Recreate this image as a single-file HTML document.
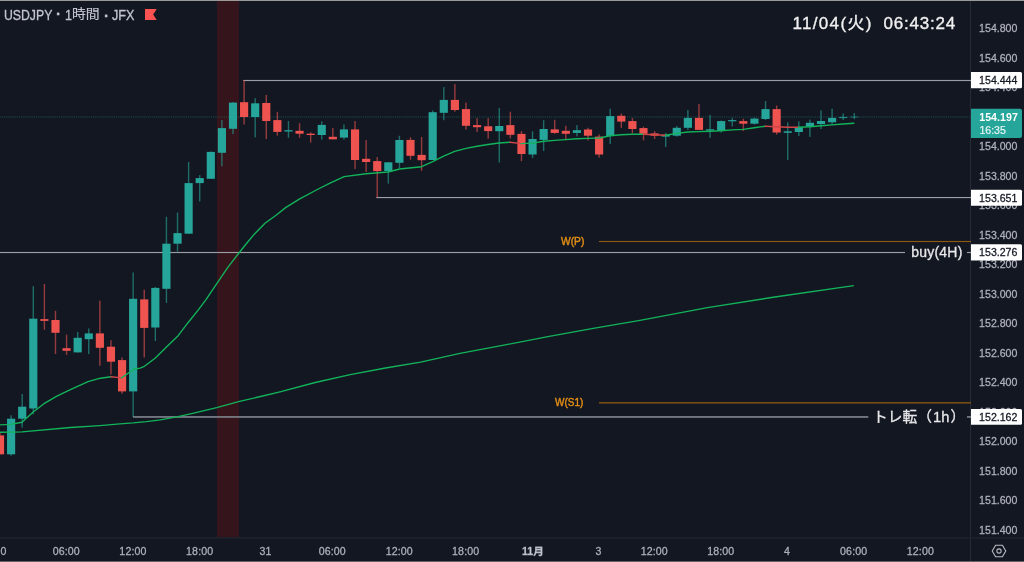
<!DOCTYPE html>
<html lang="ja">
<head>
<meta charset="utf-8">
<title>USDJPY 1時間 JFX</title>
<style>
html,body{margin:0;padding:0;background:#131722;}
body{width:1024px;height:562px;overflow:hidden;position:relative;font-family:"Liberation Sans","Noto Sans CJK JP",sans-serif;}
#wrap{position:absolute;left:0;top:0;width:1024px;height:562px;background:#131722;overflow:hidden;}
.chart{position:absolute;left:0;top:0;}
.topbar{position:absolute;left:0;top:0;width:1024px;height:1.2px;background:#9a9a98;}
.botbar{position:absolute;left:0;top:560.9px;width:1024px;height:1.1px;background:#626264;}
.vaxis{position:absolute;left:970px;top:1px;width:1px;height:560px;background:#2c303b;}
.haxis{position:absolute;left:0;top:536.6px;width:1024px;height:1px;background:#272b36;}
.pl{-webkit-text-stroke:0.26px #aeb1bc;position:absolute;left:971px;width:51px;height:14px;line-height:14px;text-align:right;padding-right:0;font-size:10.6px;color:#aeb1bc;box-sizing:border-box;padding-right:4.6px;white-space:nowrap;}
.tl{-webkit-text-stroke:0.26px #aeb1bc;position:absolute;top:543.5px;width:60px;height:14px;line-height:14px;text-align:center;font-size:10.6px;color:#aeb1bc;white-space:nowrap;letter-spacing:0.15px;}
.tl.b{font-weight:bold;color:#c4c7d0;}
.box{-webkit-text-stroke:0.26px #131722;position:absolute;left:971px;width:51px;height:16.2px;color:#131722;font-size:10.6px;line-height:16.2px;text-align:right;box-sizing:border-box;padding-right:4.6px;white-space:nowrap;}
.cur{position:absolute;left:971px;top:108.9px;width:51px;height:29.2px;color:#fff;font-size:10.6px;box-sizing:border-box;padding-left:8.4px;white-space:nowrap;}
.cur b{display:block;position:absolute;top:1.6px;left:8.2px;line-height:14px;font-weight:bold;letter-spacing:0.05px;}
.cur span{display:block;position:absolute;top:14.4px;left:8.4px;line-height:14px;color:rgba(255,255,255,0.85);-webkit-text-stroke:0.2px rgba(255,255,255,0.85);}
.title{position:absolute;left:4px;top:5px;height:20px;line-height:20px;font-size:14px;color:#c2c5cf;white-space:nowrap;-webkit-text-stroke:0.3px #c2c5cf;}
.title span{position:absolute;top:0;transform-origin:0 50%;white-space:nowrap;}
.clock{position:absolute;top:12px;height:24px;line-height:24px;font-size:17px;color:#f0f0f0;white-space:nowrap;letter-spacing:0.8px;-webkit-text-stroke:0.35px #f0f0f0;}
.ann{position:absolute;height:20px;line-height:20px;font-size:14px;color:#e8e8ea;white-space:nowrap;-webkit-text-stroke:0.3px #e8e8ea;}
.piv{position:absolute;height:12px;line-height:12px;font-size:10.5px;font-weight:normal;color:#e08c14;-webkit-text-stroke:0.45px #e08c14;white-space:nowrap;transform-origin:0 50%;transform:scaleX(0.975);}
</style>
</head>
<body>
<div id="wrap">
<svg class="chart" width="1024" height="562" viewBox="0 0 1024 562">
<rect x="970" y="1" width="1" height="560" fill="#272b37"/>
<rect x="0" y="537.05" width="1024" height="1.6" fill="#1e222e"/>
<rect x="217" y="1" width="22" height="536" fill="#35141c"/>
<line x1="0" y1="117" x2="971" y2="117" stroke="#26a69a" stroke-opacity="0.42" stroke-width="1.2" stroke-dasharray="0.95 0.95"/>
<rect x="243.3" y="79.92" width="727.7" height="1.15" fill="#9c9ea6"/>
<rect x="376.3" y="196.98" width="594.7" height="1.15" fill="#9c9ea6"/>
<rect x="0" y="251.93" width="905" height="1.15" fill="#9c9ea6"/>
<rect x="967" y="251.93" width="4" height="1.15" fill="#9c9ea6"/>
<rect x="133" y="416.10" width="735.3" height="1.7" fill="#7d808a"/>
<rect x="967" y="416.10" width="4" height="1.7" fill="#7d808a"/>
<rect x="599" y="240.93" width="372" height="1.15" fill="#8c5812"/>
<rect x="599" y="402.05" width="372" height="1.5" fill="#7d5014"/>
<rect x="-0.69" y="432.8" width="1.4" height="21.5" fill="#ef5350" fill-opacity="0.6"/>
<rect x="-4.07" y="435.4" width="8.15" height="18.9" fill="#ef5350"/>
<rect x="10.40" y="415.2" width="1.4" height="40.5" fill="#26a69a" fill-opacity="0.6"/>
<rect x="7.03" y="418.7" width="8.15" height="35.6" fill="#26a69a"/>
<rect x="21.50" y="394.0" width="1.4" height="33.5" fill="#26a69a" fill-opacity="0.6"/>
<rect x="18.12" y="406.7" width="8.15" height="12.0" fill="#26a69a"/>
<rect x="32.59" y="286.2" width="1.4" height="128.1" fill="#26a69a" fill-opacity="0.6"/>
<rect x="29.22" y="318.7" width="8.15" height="89.8" fill="#26a69a"/>
<rect x="43.69" y="283.9" width="1.4" height="45.9" fill="#ef5350" fill-opacity="0.6"/>
<rect x="40.31" y="319.1" width="8.15" height="1.8" fill="#ef5350"/>
<rect x="54.78" y="310.8" width="1.4" height="43.2" fill="#ef5350" fill-opacity="0.6"/>
<rect x="51.41" y="320.0" width="8.15" height="12.8" fill="#ef5350"/>
<rect x="65.88" y="334.6" width="1.4" height="20.3" fill="#ef5350" fill-opacity="0.6"/>
<rect x="62.50" y="348.2" width="8.15" height="2.6" fill="#ef5350"/>
<rect x="76.97" y="332.0" width="1.4" height="20.4" fill="#26a69a" fill-opacity="0.6"/>
<rect x="73.60" y="337.8" width="8.15" height="14.6" fill="#26a69a"/>
<rect x="88.07" y="328.4" width="1.4" height="25.6" fill="#26a69a" fill-opacity="0.6"/>
<rect x="84.69" y="333.4" width="8.15" height="5.8" fill="#26a69a"/>
<rect x="99.16" y="300.6" width="1.4" height="65.2" fill="#ef5350" fill-opacity="0.6"/>
<rect x="95.79" y="333.4" width="8.15" height="14.4" fill="#ef5350"/>
<rect x="110.26" y="340.2" width="1.4" height="34.4" fill="#ef5350" fill-opacity="0.6"/>
<rect x="106.88" y="346.7" width="8.15" height="15.0" fill="#ef5350"/>
<rect x="121.35" y="357.5" width="1.4" height="36.2" fill="#ef5350" fill-opacity="0.6"/>
<rect x="117.98" y="360.1" width="8.15" height="31.3" fill="#ef5350"/>
<rect x="132.44" y="272.5" width="1.4" height="144.5" fill="#26a69a" fill-opacity="0.6"/>
<rect x="129.07" y="298.8" width="8.15" height="92.6" fill="#26a69a"/>
<rect x="143.54" y="289.7" width="1.4" height="67.8" fill="#ef5350" fill-opacity="0.6"/>
<rect x="140.16" y="299.4" width="8.15" height="28.5" fill="#ef5350"/>
<rect x="154.63" y="287.0" width="1.4" height="54.1" fill="#26a69a" fill-opacity="0.6"/>
<rect x="151.26" y="287.9" width="8.15" height="39.6" fill="#26a69a"/>
<rect x="165.73" y="216.8" width="1.4" height="86.1" fill="#26a69a" fill-opacity="0.6"/>
<rect x="162.35" y="243.7" width="8.15" height="45.1" fill="#26a69a"/>
<rect x="176.82" y="212.5" width="1.4" height="39.1" fill="#26a69a" fill-opacity="0.6"/>
<rect x="173.45" y="233.1" width="8.15" height="10.6" fill="#26a69a"/>
<rect x="187.92" y="161.9" width="1.4" height="71.8" fill="#26a69a" fill-opacity="0.6"/>
<rect x="184.54" y="183.1" width="8.15" height="50.6" fill="#26a69a"/>
<rect x="199.01" y="175.1" width="1.4" height="26.3" fill="#26a69a" fill-opacity="0.6"/>
<rect x="195.64" y="178.1" width="8.15" height="5.0" fill="#26a69a"/>
<rect x="210.11" y="151.5" width="1.4" height="27.3" fill="#26a69a" fill-opacity="0.6"/>
<rect x="206.73" y="151.9" width="8.15" height="26.9" fill="#26a69a"/>
<rect x="221.20" y="120.0" width="1.4" height="46.3" fill="#26a69a" fill-opacity="0.6"/>
<rect x="217.83" y="128.1" width="8.15" height="24.7" fill="#26a69a"/>
<rect x="232.30" y="102.0" width="1.4" height="32.1" fill="#26a69a" fill-opacity="0.6"/>
<rect x="228.92" y="102.6" width="8.15" height="26.2" fill="#26a69a"/>
<rect x="243.39" y="80.3" width="1.4" height="44.2" fill="#ef5350" fill-opacity="0.6"/>
<rect x="240.02" y="102.2" width="8.15" height="14.8" fill="#ef5350"/>
<rect x="254.49" y="98.2" width="1.4" height="39.1" fill="#26a69a" fill-opacity="0.6"/>
<rect x="251.11" y="103.3" width="8.15" height="13.7" fill="#26a69a"/>
<rect x="265.58" y="94.9" width="1.4" height="44.1" fill="#ef5350" fill-opacity="0.6"/>
<rect x="262.20" y="103.0" width="8.15" height="18.0" fill="#ef5350"/>
<rect x="276.67" y="111.8" width="1.4" height="23.8" fill="#ef5350" fill-opacity="0.6"/>
<rect x="273.30" y="120.1" width="8.15" height="11.8" fill="#ef5350"/>
<rect x="287.77" y="121.1" width="1.4" height="16.7" fill="#26a69a" fill-opacity="0.6"/>
<rect x="284.39" y="130.2" width="8.15" height="1.3" fill="#26a69a"/>
<rect x="298.86" y="123.2" width="1.4" height="14.6" fill="#ef5350" fill-opacity="0.6"/>
<rect x="295.49" y="130.8" width="8.15" height="2.9" fill="#ef5350"/>
<rect x="309.96" y="132.3" width="1.4" height="10.3" fill="#ef5350" fill-opacity="0.6"/>
<rect x="306.58" y="133.7" width="8.15" height="1.3" fill="#ef5350"/>
<rect x="321.05" y="121.4" width="1.4" height="18.2" fill="#26a69a" fill-opacity="0.6"/>
<rect x="317.68" y="124.9" width="8.15" height="10.1" fill="#26a69a"/>
<rect x="332.15" y="128.0" width="1.4" height="11.3" fill="#ef5350" fill-opacity="0.6"/>
<rect x="328.77" y="136.8" width="8.15" height="2.5" fill="#ef5350"/>
<rect x="343.24" y="124.4" width="1.4" height="15.2" fill="#26a69a" fill-opacity="0.6"/>
<rect x="339.87" y="129.4" width="8.15" height="8.2" fill="#26a69a"/>
<rect x="354.34" y="121.0" width="1.4" height="48.0" fill="#ef5350" fill-opacity="0.6"/>
<rect x="350.96" y="129.4" width="8.15" height="30.6" fill="#ef5350"/>
<rect x="365.43" y="140.0" width="1.4" height="32.0" fill="#ef5350" fill-opacity="0.6"/>
<rect x="362.06" y="158.8" width="8.15" height="3.2" fill="#ef5350"/>
<rect x="376.53" y="157.0" width="1.4" height="40.5" fill="#ef5350" fill-opacity="0.6"/>
<rect x="373.15" y="161.1" width="8.15" height="10.0" fill="#ef5350"/>
<rect x="387.62" y="162.3" width="1.4" height="21.3" fill="#26a69a" fill-opacity="0.6"/>
<rect x="384.25" y="162.3" width="8.15" height="8.8" fill="#26a69a"/>
<rect x="398.72" y="135.8" width="1.4" height="32.3" fill="#26a69a" fill-opacity="0.6"/>
<rect x="395.34" y="140.0" width="8.15" height="22.8" fill="#26a69a"/>
<rect x="409.81" y="137.3" width="1.4" height="22.4" fill="#ef5350" fill-opacity="0.6"/>
<rect x="406.43" y="139.9" width="8.15" height="15.9" fill="#ef5350"/>
<rect x="420.90" y="136.9" width="1.4" height="33.9" fill="#ef5350" fill-opacity="0.6"/>
<rect x="417.53" y="154.9" width="8.15" height="5.3" fill="#ef5350"/>
<rect x="432.00" y="110.5" width="1.4" height="49.5" fill="#26a69a" fill-opacity="0.6"/>
<rect x="428.62" y="112.2" width="8.15" height="47.8" fill="#26a69a"/>
<rect x="443.09" y="87.1" width="1.4" height="33.1" fill="#26a69a" fill-opacity="0.6"/>
<rect x="439.72" y="99.9" width="8.15" height="12.9" fill="#26a69a"/>
<rect x="454.19" y="84.1" width="1.4" height="27.6" fill="#ef5350" fill-opacity="0.6"/>
<rect x="450.81" y="99.9" width="8.15" height="10.1" fill="#ef5350"/>
<rect x="465.28" y="102.6" width="1.4" height="27.0" fill="#ef5350" fill-opacity="0.6"/>
<rect x="461.91" y="109.1" width="8.15" height="16.7" fill="#ef5350"/>
<rect x="476.38" y="118.2" width="1.4" height="13.8" fill="#ef5350" fill-opacity="0.6"/>
<rect x="473.00" y="125.1" width="8.15" height="2.1" fill="#ef5350"/>
<rect x="487.47" y="118.2" width="1.4" height="20.5" fill="#ef5350" fill-opacity="0.6"/>
<rect x="484.10" y="126.3" width="8.15" height="4.8" fill="#ef5350"/>
<rect x="498.57" y="107.9" width="1.4" height="54.6" fill="#26a69a" fill-opacity="0.6"/>
<rect x="495.19" y="126.0" width="8.15" height="5.2" fill="#26a69a"/>
<rect x="509.66" y="111.7" width="1.4" height="26.8" fill="#ef5350" fill-opacity="0.6"/>
<rect x="506.29" y="125.1" width="8.15" height="9.7" fill="#ef5350"/>
<rect x="520.76" y="131.1" width="1.4" height="30.1" fill="#ef5350" fill-opacity="0.6"/>
<rect x="517.38" y="133.9" width="8.15" height="20.1" fill="#ef5350"/>
<rect x="531.85" y="131.3" width="1.4" height="26.7" fill="#26a69a" fill-opacity="0.6"/>
<rect x="528.48" y="139.0" width="8.15" height="15.5" fill="#26a69a"/>
<rect x="542.94" y="120.2" width="1.4" height="30.8" fill="#26a69a" fill-opacity="0.6"/>
<rect x="539.57" y="129.0" width="8.15" height="10.9" fill="#26a69a"/>
<rect x="554.04" y="119.8" width="1.4" height="14.0" fill="#ef5350" fill-opacity="0.6"/>
<rect x="550.66" y="129.4" width="8.15" height="3.5" fill="#ef5350"/>
<rect x="565.13" y="125.8" width="1.4" height="13.8" fill="#ef5350" fill-opacity="0.6"/>
<rect x="561.76" y="130.8" width="8.15" height="3.0" fill="#ef5350"/>
<rect x="576.23" y="125.1" width="1.4" height="11.3" fill="#26a69a" fill-opacity="0.6"/>
<rect x="572.85" y="130.2" width="8.15" height="2.7" fill="#26a69a"/>
<rect x="587.32" y="127.8" width="1.4" height="12.6" fill="#ef5350" fill-opacity="0.6"/>
<rect x="583.95" y="129.5" width="8.15" height="6.2" fill="#ef5350"/>
<rect x="598.42" y="134.4" width="1.4" height="23.1" fill="#ef5350" fill-opacity="0.6"/>
<rect x="595.04" y="136.6" width="8.15" height="17.9" fill="#ef5350"/>
<rect x="609.51" y="108.7" width="1.4" height="35.3" fill="#26a69a" fill-opacity="0.6"/>
<rect x="606.14" y="116.1" width="8.15" height="19.9" fill="#26a69a"/>
<rect x="620.61" y="113.5" width="1.4" height="14.3" fill="#ef5350" fill-opacity="0.6"/>
<rect x="617.23" y="115.8" width="8.15" height="5.8" fill="#ef5350"/>
<rect x="631.70" y="117.9" width="1.4" height="15.5" fill="#ef5350" fill-opacity="0.6"/>
<rect x="628.33" y="121.1" width="8.15" height="7.9" fill="#ef5350"/>
<rect x="642.80" y="126.7" width="1.4" height="13.7" fill="#ef5350" fill-opacity="0.6"/>
<rect x="639.42" y="128.1" width="8.15" height="5.7" fill="#ef5350"/>
<rect x="653.89" y="131.1" width="1.4" height="7.9" fill="#ef5350" fill-opacity="0.6"/>
<rect x="650.52" y="133.4" width="8.15" height="2.3" fill="#ef5350"/>
<rect x="664.99" y="132.9" width="1.4" height="14.1" fill="#26a69a" fill-opacity="0.6"/>
<rect x="661.61" y="134.8" width="8.15" height="1.8" fill="#26a69a"/>
<rect x="676.08" y="126.0" width="1.4" height="10.6" fill="#26a69a" fill-opacity="0.6"/>
<rect x="672.71" y="127.8" width="8.15" height="7.9" fill="#26a69a"/>
<rect x="687.17" y="110.0" width="1.4" height="19.9" fill="#26a69a" fill-opacity="0.6"/>
<rect x="683.80" y="117.9" width="8.15" height="9.9" fill="#26a69a"/>
<rect x="698.27" y="104.0" width="1.4" height="25.9" fill="#ef5350" fill-opacity="0.6"/>
<rect x="694.89" y="117.9" width="8.15" height="12.0" fill="#ef5350"/>
<rect x="709.36" y="114.9" width="1.4" height="22.9" fill="#26a69a" fill-opacity="0.6"/>
<rect x="705.99" y="129.3" width="8.15" height="1.2" fill="#26a69a"/>
<rect x="720.46" y="120.5" width="1.4" height="12.0" fill="#26a69a" fill-opacity="0.6"/>
<rect x="717.08" y="121.1" width="8.15" height="9.7" fill="#26a69a"/>
<rect x="731.55" y="117.9" width="1.4" height="8.5" fill="#26a69a" fill-opacity="0.6"/>
<rect x="728.18" y="120.1" width="8.15" height="1.2" fill="#26a69a"/>
<rect x="742.65" y="118.8" width="1.4" height="12.3" fill="#ef5350" fill-opacity="0.6"/>
<rect x="739.27" y="121.1" width="8.15" height="2.6" fill="#ef5350"/>
<rect x="753.74" y="117.6" width="1.4" height="7.0" fill="#26a69a" fill-opacity="0.6"/>
<rect x="750.37" y="118.6" width="8.15" height="5.1" fill="#26a69a"/>
<rect x="764.84" y="101.1" width="1.4" height="18.9" fill="#26a69a" fill-opacity="0.6"/>
<rect x="761.46" y="109.1" width="8.15" height="9.9" fill="#26a69a"/>
<rect x="775.93" y="105.5" width="1.4" height="29.1" fill="#ef5350" fill-opacity="0.6"/>
<rect x="772.56" y="109.1" width="8.15" height="23.4" fill="#ef5350"/>
<rect x="787.03" y="122.3" width="1.4" height="37.8" fill="#26a69a" fill-opacity="0.6"/>
<rect x="783.65" y="131.3" width="8.15" height="1.5" fill="#26a69a"/>
<rect x="798.12" y="121.4" width="1.4" height="14.6" fill="#26a69a" fill-opacity="0.6"/>
<rect x="794.75" y="127.2" width="8.15" height="4.8" fill="#26a69a"/>
<rect x="809.22" y="119.6" width="1.4" height="17.3" fill="#26a69a" fill-opacity="0.6"/>
<rect x="805.84" y="122.8" width="8.15" height="3.9" fill="#26a69a"/>
<rect x="820.31" y="110.3" width="1.4" height="18.7" fill="#26a69a" fill-opacity="0.6"/>
<rect x="816.93" y="121.0" width="8.15" height="3.0" fill="#26a69a"/>
<rect x="831.40" y="108.7" width="1.4" height="16.2" fill="#26a69a" fill-opacity="0.6"/>
<rect x="828.03" y="117.9" width="8.15" height="4.4" fill="#26a69a"/>
<rect x="842.50" y="113.5" width="1.4" height="6.5" fill="#26a69a" fill-opacity="0.6"/>
<rect x="839.12" y="116.9" width="8.15" height="1.2" fill="#26a69a" fill-opacity="0.8"/>
<rect x="853.59" y="113.1" width="1.4" height="6.0" fill="#26a69a" fill-opacity="0.6"/>
<rect x="850.22" y="116.4" width="8.15" height="1.2" fill="#26a69a" fill-opacity="0.5"/>
<polyline points="0.0,432.3 22.0,431.9 70.4,427.5 100.0,425.6 120.0,423.9 133.2,422.9 146.4,421.6 160.4,419.9 178.0,416.7 193.8,413.2 216.7,407.6 239.5,401.4 260.6,396.5 280.0,391.8 315.2,382.5 350.3,374.6 385.5,368.0 420.6,362.2 460.0,353.3 503.9,345.1 547.9,336.7 591.8,328.7 640.0,320.4 707.4,307.7 774.8,297.0 853.8,285.7" fill="none" stroke="#12b35a" stroke-width="1.35" stroke-linejoin="round"/>
<polyline points="0.0,424.9 10.6,424.4 22.0,422.3 33.5,411.7 44.0,403.7 56.4,396.3 70.4,389.7 88.0,381.7 100.4,378.2 111.0,376.8" fill="none" stroke="#12b35a" stroke-width="1.38" stroke-linejoin="round" stroke-linecap="round"/>
<polyline points="111.0,376.8 121.5,377.9" fill="none" stroke="#cf4646" stroke-width="1.38" stroke-linejoin="round" stroke-linecap="round"/>
<polyline points="121.5,377.9 133.8,369.3 140.0,368.1 144.4,366.3 155.1,358.3 166.7,346.7 177.4,336.6 188.0,322.7 198.7,309.4 206.0,299.7 216.6,283.8 228.0,267.2 239.3,252.5 246.9,243.0 254.5,233.9 265.0,223.3 276.4,215.0 285.6,207.6 299.7,198.8 316.4,190.0 330.0,183.1 344.1,176.6 366.1,173.8 388.1,172.0 399.6,169.0 421.6,166.7 432.7,161.6 443.6,156.1 454.7,151.4 466.1,148.4 477.0,146.3 488.0,144.5 499.0,143.0 510.0,142.2" fill="none" stroke="#12b35a" stroke-width="1.38" stroke-linejoin="round" stroke-linecap="round"/>
<polyline points="510.0,142.2 521.0,143.6" fill="none" stroke="#cf4646" stroke-width="1.38" stroke-linejoin="round" stroke-linecap="round"/>
<polyline points="521.0,143.6 532.7,143.1 543.8,141.3 554.7,140.4 565.7,139.6 576.6,138.8 587.7,138.4 599.3,138.0 610.3,135.7 621.2,134.8 632.3,134.3 643.4,134.3" fill="none" stroke="#12b35a" stroke-width="1.38" stroke-linejoin="round" stroke-linecap="round"/>
<polyline points="643.4,134.3 654.3,134.8 665.7,135.2" fill="none" stroke="#cf4646" stroke-width="1.38" stroke-linejoin="round" stroke-linecap="round"/>
<polyline points="665.7,135.2 676.8,133.4 687.9,132.0 698.8,131.6 709.8,131.3 720.9,130.8 731.8,129.9 743.2,129.4 754.3,127.8 765.3,126.2" fill="none" stroke="#12b35a" stroke-width="1.38" stroke-linejoin="round" stroke-linecap="round"/>
<polyline points="765.3,126.2 776.4,126.7 787.3,127.2 798.4,127.2" fill="none" stroke="#cf4646" stroke-width="1.38" stroke-linejoin="round" stroke-linecap="round"/>
<polyline points="798.4,127.2 809.9,126.7 820.8,125.8 831.9,124.9 842.8,124.0 853.9,123.3" fill="none" stroke="#12b35a" stroke-width="1.38" stroke-linejoin="round" stroke-linecap="round"/>
<path d="M145.6 9 H156.7 L153.2 14.55 L156.7 20.1 H145.6 Q145 20.1 145 19.5 V9.6 Q145 9 145.6 9 Z" fill="#fc5252"/>
<path d="M992.2 551 L995.6 545.2 H1002.4 L1005.8 551 L1002.4 556.8 H995.6 Z" fill="none" stroke="#b9bbc3" stroke-width="1.1" stroke-linejoin="round"/>
<circle cx="999" cy="551" r="2.15" fill="none" stroke="#b9bbc3" stroke-width="1.05"/>
</svg>
<div class="pl" style="top:21.1px">154.800</div>
<div class="pl" style="top:50.6px">154.600</div>
<div class="pl" style="top:80.1px">154.400</div>
<div class="pl" style="top:109.6px">154.200</div>
<div class="pl" style="top:139.1px">154.000</div>
<div class="pl" style="top:168.6px">153.800</div>
<div class="pl" style="top:198.1px">153.600</div>
<div class="pl" style="top:227.6px">153.400</div>
<div class="pl" style="top:257.1px">153.200</div>
<div class="pl" style="top:286.6px">153.000</div>
<div class="pl" style="top:316.1px">152.800</div>
<div class="pl" style="top:345.6px">152.600</div>
<div class="pl" style="top:375.1px">152.400</div>
<div class="pl" style="top:404.6px">152.200</div>
<div class="pl" style="top:434.1px">152.000</div>
<div class="pl" style="top:463.6px">151.800</div>
<div class="pl" style="top:493.1px">151.600</div>
<div class="pl" style="top:522.6px">151.400</div>
<svg class="chart" width="1024" height="562" viewBox="0 0 1024 562">
<path d="M971 72.05 H1020.5 Q1022 72.05 1022 73.55 V86.75 Q1022 88.25 1020.5 88.25 H971 Z" fill="#fff"/>
<path d="M971 108.85 H1020 Q1022 108.85 1022 110.85 V136 Q1022 138 1020 138 H971 Z" fill="#26a69a"/>
<path d="M971 189.75 H1020.5 Q1022 189.75 1022 191.25 V204.35 Q1022 205.85 1020.5 205.85 H971 Z" fill="#fff"/>
<path d="M971 244.35 H1020.5 Q1022 244.35 1022 245.85 V259 Q1022 260.5 1020.5 260.5 H971 Z" fill="#fff"/>
<path d="M971 408.9 H1020.5 Q1022 408.9 1022 410.4 V423.3 Q1022 424.8 1020.5 424.8 H971 Z" fill="#fff"/>
</svg>
<div class="box" style="top:72.1px">154.444</div>
<div class="cur"><b>154.197</b><span>16:35</span></div>
<div class="box" style="top:189.7px">153.651</div>
<div class="box" style="top:244.3px">153.276</div>
<div class="box" style="top:408.8px">152.162</div>
<div class="tl" style="left:-29.5px">30</div>
<div class="tl" style="left:36.3px">06:00</div>
<div class="tl" style="left:103.0px">12:00</div>
<div class="tl" style="left:169.7px">18:00</div>
<div class="tl" style="left:235.5px">31</div>
<div class="tl" style="left:302.3px">06:00</div>
<div class="tl" style="left:369.3px">12:00</div>
<div class="tl" style="left:435.7px">18:00</div>
<div class="tl b" style="left:503.0px">11月</div>
<div class="tl" style="left:568.5px">3</div>
<div class="tl" style="left:624.3px">12:00</div>
<div class="tl" style="left:690.8px">18:00</div>
<div class="tl" style="left:757.0px">4</div>
<div class="tl" style="left:823.7px">06:00</div>
<div class="tl" style="left:890.4px">12:00</div>
<div class="title"><span style="left:0;transform:scaleX(0.875)">USDJPY</span><span style="left:52px;top:-0.8px;font-weight:bold;font-size:15px">·</span><span style="left:60.8px;transform:scaleX(0.9)">1</span><span style="left:67.8px;top:-0.7px;font-size:13px;transform:scaleX(1.065);-webkit-text-stroke:0.15px #c2c5cf">時間</span><span style="left:99.9px;top:0.7px;font-weight:bold;font-size:15px">·</span><span style="left:107.9px;transform:scaleX(0.9)">JFX</span></div>
<div class="clock" style="left:792.4px;letter-spacing:1.35px">11/04(火)</div>
<div class="clock" style="left:883.4px">06:43:24</div>
<div class="ann" style="left:911.3px;top:242.3px;letter-spacing:0.2px">buy(4H)</div>
<div class="ann" style="left:873.1px;top:406.5px;font-size:14.7px">トレ転（<span style="margin:0 1.1px 0 1.2px">1h</span>）</div>
<div class="piv" style="left:560.6px;top:234.5px">W(P)</div>
<div class="piv" style="left:555px;top:395.8px;transform:scaleX(0.95)">W(S1)</div>
<div class="topbar"></div>
<div class="botbar"></div>
</div>
</body>
</html>
